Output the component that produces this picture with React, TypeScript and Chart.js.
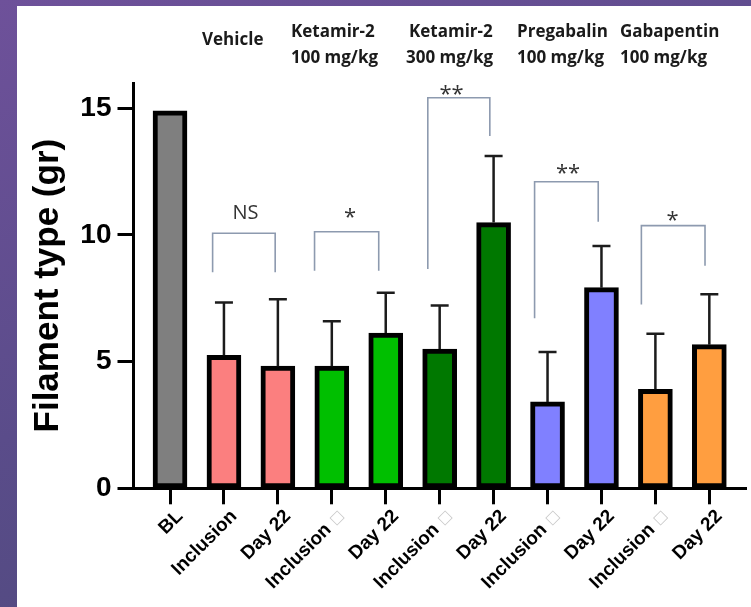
import React, { useEffect, useRef } from "react";
import { Chart, registerables } from "chart.js";

Chart.register(...registerables);

// ---------- data ----------
const categories = ["BL", "Inclusion", "Day 22", "Inclusion", "Day 22", "Inclusion", "Day 22", "Inclusion", "Day 22", "Inclusion", "Day 22"];
const missingGlyph = [false, false, false, true, false, true, false, true, false, true, false];
const means = [14.9, 5.25, 4.82, 4.82, 6.13, 5.5, 10.49, 3.41, 7.92, 3.91, 5.67];
const sd = [0, 2.08, 2.64, 1.77, 1.59, 1.72, 2.63, 1.97, 1.65, 2.19, 1.99];
const barColors = ["#7f7f7f", "#fb7f7f", "#fb7f7f", "#00bf00", "#00bf00", "#007800", "#007800", "#8080ff", "#8080ff", "#ff9e40", "#ff9e40"];
const yTicks = [0, 5, 10, 15];
const yTitle = "Filament type (gr)";

const groupLine1 = ["Vehicle", "Ketamir-2", "Ketamir-2", "Pregabalin", "Gabapentin"];
const groupLine2 = ["", "100 mg/kg", "300 mg/kg", "100 mg/kg", "100 mg/kg"];

// significance brackets (x in category units, y in axis units)
const sigText = ["NS", "*", "**", "**", "*"];
const sigFrom = [0.79, 2.68, 4.78, 6.76, 8.74];
const sigTo = [1.95, 3.87, 5.93, 7.94, 9.92];
const sigTop = [10.07, 10.13, 15.42, 12.1, 10.37];
const sigFromEnd = [8.53, 8.59, 8.66, 6.71, 7.26];
const sigToEnd = [8.53, 8.59, 13.91, 10.52, 8.79];
const sigTextX = [1.4, 3.34, 5.22, 7.38, 9.32];
const sigTextY = [10.63, 10.45, 15.3, 12.16, 10.3];

// ---------- layout constants ----------
const W = 751;
const H = 607;
const headerX1 = [202, 291, 409, 517, 620];
const headerX2 = [0, 291, 406, 517, 620];
const headerBase1 = 37;
const headerBase2 = 63;
const headerBaseSingle = 45;

const annotPlugin = {
  id: "annot",
  afterDatasetsDraw(chart: any) {
    const { ctx } = chart;
    const x = chart.scales.x;
    const y = chart.scales.y;
    ctx.save();
    // error bars
    ctx.strokeStyle = "#1c1c1c";
    ctx.lineWidth = 2.5;
    means.forEach((m, i) => {
      if (!sd[i]) return;
      const px = x.getPixelForValue(i);
      const y0 = y.getPixelForValue(m);
      const y1 = y.getPixelForValue(m + sd[i]);
      ctx.beginPath();
      ctx.moveTo(px, y0);
      ctx.lineTo(px, y1);
      ctx.moveTo(px - 9, y1);
      ctx.lineTo(px + 9, y1);
      ctx.stroke();
    });
    // brackets
    ctx.strokeStyle = "#8d9aaf";
    ctx.lineWidth = 1.6;
    sigText.forEach((t, i) => {
      const xa = x.getPixelForValue(sigFrom[i]);
      const xb = x.getPixelForValue(sigTo[i]);
      const yt = y.getPixelForValue(sigTop[i]);
      ctx.beginPath();
      ctx.moveTo(xa, y.getPixelForValue(sigFromEnd[i]));
      ctx.lineTo(xa, yt);
      ctx.lineTo(xb, yt);
      ctx.lineTo(xb, y.getPixelForValue(sigToEnd[i]));
      ctx.stroke();
      ctx.fillStyle = "#333";
      ctx.textAlign = "center";
      ctx.textBaseline = "alphabetic";
      ctx.font = t === "NS" ? "20px 'Open Sans'" : "22px 'Open Sans'";
      ctx.fillText(t, x.getPixelForValue(sigTextX[i]), y.getPixelForValue(sigTextY[i]));
    });
    ctx.restore();
  },
  afterDraw(chart: any) {
    const { ctx } = chart;
    const x = chart.scales.x;
    ctx.save();
    // missing-glyph boxes after some tick labels
    const items = x.getLabelItems();
    items.forEach((it: any, i: number) => {
      if (!missingGlyph[i]) return;
      const [tx, ty] = it.options.translation;
      ctx.save();
      ctx.translate(tx, ty);
      ctx.rotate(it.options.rotation);
      ctx.font = "14px 'DejaVu Sans'";
      ctx.fillStyle = "#c8c8c8";
      ctx.textAlign = "right";
      ctx.textBaseline = "middle";
      ctx.fillText("\u25A1", 0, it.textOffset);
      ctx.restore();
    });
    // group headers
    ctx.fillStyle = "#1a1a1a";
    ctx.font = "bold 17px 'Open Sans'";
    ctx.textAlign = "left";
    ctx.textBaseline = "alphabetic";
    groupLine1.forEach((t, i) => {
      if (groupLine2[i]) {
        ctx.fillText(t, headerX1[i], headerBase1);
        ctx.fillText(groupLine2[i], headerX2[i], headerBase2);
      } else {
        ctx.fillText(t, headerX1[i], headerBaseSingle);
      }
    });
    ctx.restore();
  },
};

export default function App() {
  const ref = useRef<HTMLCanvasElement>(null);
  useEffect(() => {
    if (!ref.current) return;
    const chart = new Chart(ref.current, {
      type: "bar",
      data: {
        datasets: [
          {
            data: means.map((v, i) => ({ x: i, y: v })),
            backgroundColor: barColors,
            borderColor: "#000",
            borderWidth: 5,
            borderSkipped: false,
            barThickness: 34,
          } as any,
        ],
      },
      options: {
        responsive: false,
        devicePixelRatio: 1,
        animation: false,
        layout: { padding: { top: 83, right: 5, left: 0, bottom: 0 } },
        plugins: { legend: { display: false }, tooltip: { enabled: false } },
        scales: {
          x: {
            type: "linear",
            offset: false,
            min: -0.677,
            max: 10.68,
            afterBuildTicks: (s: any) => {
              s.ticks = categories.map((_, i) => ({ value: i }));
            },
            afterFit: (s: any) => {
              s.height = H - 488.3;
            },
            ticks: {
              autoSkip: false,
              minRotation: 45,
              maxRotation: 45,
              padding: 1,
              labelOffset: 10,
              color: "#000",
              font: { family: "'Liberation Sans', Arial, sans-serif", weight: "bold", size: 19 },
              callback: (_v: any, i: number) => categories[i] + (missingGlyph[i] ? "\u2002\u2002" : ""),
            },
            grid: { display: true, offset: false, drawOnChartArea: false, drawTicks: true, tickLength: 16, tickWidth: 3, tickColor: "#000" },
            border: { display: true, width: 3, color: "#000" },
          },
          y: {
            type: "linear",
            min: 0,
            max: 16,
            afterBuildTicks: (s: any) => {
              s.ticks = yTicks.map((v) => ({ value: v }));
            },
            afterFit: (s: any) => {
              s.width = 133.5;
            },
            ticks: {
              padding: 6,
              color: "#000",
              font: { family: "'Liberation Sans', Arial, sans-serif", weight: "bold", size: 28 },
            },
            grid: { display: true, drawOnChartArea: false, drawTicks: true, tickLength: 16, tickWidth: 3, tickColor: "#000" },
            border: { display: true, width: 3, color: "#000" },
            title: {
              display: true,
              text: yTitle,
              color: "#000",
              padding: { top: 27, bottom: 0 },
              font: { family: "'Liberation Sans', Arial, sans-serif", weight: "bold", size: 35 },
            },
          },
        },
      } as any,
      plugins: [annotPlugin],
    });
    return () => chart.destroy();
  }, []);

  return (
    <div
      style={{
        position: "fixed",
        left: 0,
        top: 0,
        width: W,
        height: H,
        overflow: "hidden",
        background: "linear-gradient(160deg, #6e519a 0%, #5a4c8a 50%, #4c4979 100%)",
      }}
    >
      <div style={{ position: "absolute", left: 17, top: 6, right: 0, bottom: 0, background: "#fff" }} />
      <canvas ref={ref} width={W} height={H} style={{ position: "absolute", left: 0, top: 0, width: W, height: H }} />
    </div>
  );
}
